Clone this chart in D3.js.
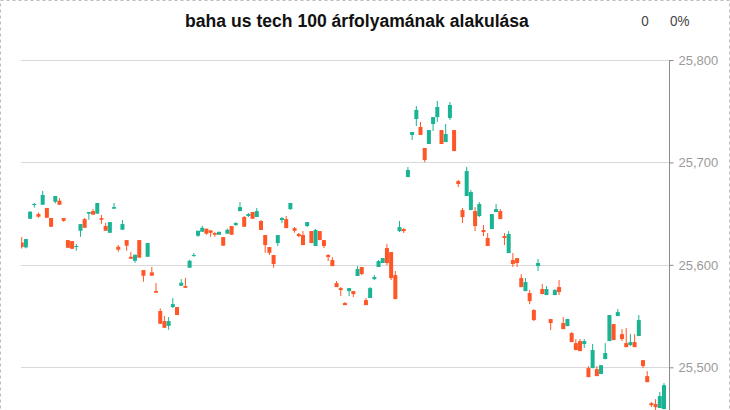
<!DOCTYPE html>
<html><head><meta charset="utf-8">
<script src="https://cdn.jsdelivr.net/npm/d3@7"></script>
<style>html,body{margin:0;padding:0;background:#fff;}svg{display:block;}</style>
</head><body><div id="chart"></div>
<script>
const titleText = "baha us tech 100 árfolyamának alakulása";
const changeValue = "0";
const changePct = "0%";
const yTicks = [25500, 25600, 25700, 25800];
const openV = [25621.8,25617.1,25645.0,25658.7,25649.6,25658.7,25655.5,25645.7,25661.6,25662.6,25645.7,25624.2,25623.2,25617.4,25633.3,25644.7,25650.0,25652.5,25650.0,25645.7,25637.9,25631.3,25654.8,25617.7,25634.3,25624.2,25607.9,25604.0,25624.2,25594.9,25607.9,25592.7,25574.4,25554.9,25545.1,25540.5,25558.8,25558.8,25579.6,25579.3,25597.2,25608.6,25628.4,25632.3,25635.3,25633.7,25631.1,25629.4,25627.1,25630.4,25637.9,25638.9,25652.5,25646.7,25647.7,25651.6,25646.7,25642.8,25629.1,25617.4,25609.6,25621.3,25643.8,25644.7,25654.5,25635.9,25630.1,25629.1,25637.9,25633.0,25618.4,25633.0,25624.2,25609.6,25604.7,25582.2,25577.3,25562.7,25574.4,25574.4,25589.1,25597.9,25565.6,25567.6,25586.1,25597.9,25601.8,25616.4,25612.5,25590.0,25633.0,25635.0,25685.7,25726.8,25742.4,25734.6,25714.1,25718.0,25737.5,25744.3,25731.6,25719.9,25743.4,25731.6,25681.8,25653.5,25667.2,25653.5,25652.5,25647.7,25634.0,25626.2,25635.0,25651.6,25652.5,25628.1,25611.5,25604.7,25606.6,25587.1,25574.4,25572.5,25555.9,25598.8,25576.4,25570.5,25547.1,25570.5,25578.3,25543.2,25540.2,25533.4,25523.6,25525.6,25522.7,25499.2,25499.2,25498.2,25493.4,25508.0,25525.6,25542.2,25550.0,25532.4,25523.6,25521.7,25524.6,25530.5,25507.0,25491.4,25465.0,25464.1,25460.2,25459.2];
const highV = [25627.1,25625.2,25652.5,25660.4,25651.0,25672.1,25655.5,25645.7,25667.2,25665.2,25645.7,25624.2,25623.2,25620.3,25639.8,25645.7,25651.6,25654.5,25660.4,25648.6,25640.8,25641.8,25660.4,25619.3,25643.8,25624.2,25612.5,25609.9,25624.2,25594.9,25621.3,25597.9,25582.2,25557.5,25550.0,25549.0,25567.6,25558.8,25586.1,25587.1,25605.0,25611.5,25633.3,25638.2,25635.3,25633.7,25632.3,25632.3,25627.1,25635.3,25637.9,25641.8,25661.3,25647.7,25650.6,25651.6,25655.5,25643.8,25629.1,25617.4,25609.6,25629.1,25646.7,25647.7,25660.4,25636.9,25631.1,25633.0,25641.8,25633.0,25635.0,25633.0,25624.2,25610.5,25607.6,25584.2,25578.3,25563.7,25577.3,25574.4,25598.8,25597.9,25567.6,25578.3,25590.0,25604.7,25606.6,25620.3,25612.5,25594.0,25642.8,25635.9,25695.5,25729.7,25755.1,25739.5,25714.1,25731.6,25744.3,25760.0,25731.6,25737.5,25759.0,25731.6,25682.8,25655.5,25695.5,25673.0,25656.4,25661.3,25638.9,25631.1,25649.6,25659.4,25654.5,25631.1,25633.0,25611.5,25606.6,25591.0,25587.1,25575.4,25556.8,25605.7,25581.3,25579.3,25547.1,25576.4,25585.2,25549.0,25547.1,25534.4,25527.5,25527.5,25527.5,25501.2,25522.7,25501.2,25502.1,25523.6,25551.0,25542.2,25556.8,25537.3,25538.3,25532.4,25532.4,25551.0,25507.0,25496.3,25466.0,25468.9,25475.8,25484.6];
const lowV = [25615.9,25616.1,25645.0,25656.0,25646.0,25658.7,25646.0,25637.2,25660.0,25658.7,25642.0,25616.7,25615.7,25613.8,25627.4,25636.2,25644.0,25649.0,25650.0,25640.1,25633.3,25631.3,25654.8,25612.8,25634.3,25613.8,25606.0,25602.0,25607.0,25583.5,25607.9,25589.4,25572.8,25542.5,25538.6,25536.6,25557.8,25551.0,25579.6,25577.6,25597.2,25607.9,25627.4,25632.3,25629.4,25627.4,25627.4,25629.4,25618.7,25630.4,25629.4,25637.9,25652.5,25637.2,25646.7,25645.0,25646.7,25634.0,25611.8,25609.6,25597.3,25618.4,25640.8,25635.9,25653.5,25631.4,25627.1,25619.3,25636.9,25621.3,25618.4,25624.2,25616.4,25603.7,25598.8,25578.3,25569.5,25560.7,25569.5,25568.6,25589.1,25590.0,25560.7,25567.6,25585.2,25597.9,25601.8,25599.8,25585.2,25566.6,25632.0,25631.1,25685.7,25721.9,25735.5,25726.8,25700.4,25718.0,25730.7,25739.5,25718.0,25719.9,25741.4,25711.1,25675.9,25640.8,25667.2,25653.5,25633.0,25646.7,25628.1,25618.4,25635.0,25651.6,25644.7,25619.3,25611.5,25597.9,25597.9,25578.3,25574.4,25561.7,25545.1,25594.0,25571.5,25570.5,25536.3,25570.5,25570.5,25537.3,25540.2,25524.6,25516.8,25515.8,25518.8,25490.4,25499.2,25491.4,25493.4,25508.0,25525.6,25526.6,25550.0,25525.6,25519.7,25520.7,25519.7,25530.5,25499.2,25485.5,25461.1,25458.2,25460.2,25459.2];
const closeV = [25617.4,25625.2,25651.9,25659.4,25647.0,25668.2,25646.0,25637.2,25667.2,25658.7,25643.0,25616.7,25615.7,25618.4,25639.8,25636.2,25651.6,25649.0,25660.4,25644.0,25633.3,25641.8,25656.4,25614.8,25639.8,25618.7,25606.0,25609.9,25607.0,25589.4,25621.3,25589.4,25572.8,25542.5,25538.6,25545.1,25561.7,25551.0,25582.5,25577.6,25604.0,25609.6,25633.3,25636.2,25630.4,25631.3,25629.4,25632.3,25618.7,25634.3,25629.4,25640.8,25656.4,25637.2,25649.6,25645.0,25652.5,25634.0,25619.3,25611.8,25600.8,25629.1,25645.7,25635.9,25660.4,25633.3,25628.1,25619.3,25641.8,25621.3,25634.0,25624.2,25618.4,25607.6,25598.8,25578.3,25575.4,25560.7,25577.3,25571.5,25595.9,25591.0,25560.7,25577.3,25588.1,25603.7,25606.6,25601.8,25587.1,25566.6,25636.9,25633.0,25692.6,25729.7,25751.2,25726.8,25702.3,25731.6,25744.3,25754.1,25718.0,25727.7,25756.1,25711.1,25678.9,25646.7,25691.6,25671.1,25637.9,25659.4,25632.0,25618.4,25649.6,25654.5,25644.7,25626.2,25630.1,25600.8,25601.8,25578.3,25583.2,25564.6,25546.1,25601.8,25571.5,25576.4,25543.2,25575.4,25573.4,25537.3,25547.1,25524.6,25516.8,25515.8,25525.6,25490.4,25516.8,25491.4,25502.1,25513.9,25551.0,25526.6,25553.9,25527.5,25519.7,25524.6,25519.7,25546.1,25501.2,25485.5,25463.1,25461.1,25471.9,25482.6];

const W = 730, H = 410;
const plotL = 21, plotR = 669, plotT = 60;
const upColor = "#1ab394", downColor = "#ff5627";
const n = openV.length;
const data = d3.range(n).map(i => ({i, o: openV[i], h: highV[i], l: lowV[i], c: closeV[i]}));

const svg = d3.select("#chart").append("svg").attr("width", W).attr("height", H);

// dashed border
svg.append("rect").attr("x", 0.5).attr("y", 0.5).attr("width", W - 1).attr("height", H + 10)
  .attr("fill", "none").attr("stroke", "#bdbdbd").attr("stroke-dasharray", "3,3");

const x = d3.scaleLinear().domain([0, n - 1]).range([21.7, 664]);
const y = d3.scaleLinear().domain([25500, 25800]).range([367.3, 60]);

// gridlines
svg.append("g").selectAll("line").data(yTicks).join("line")
  .attr("x1", plotL).attr("x2", plotR)
  .attr("y1", d => Math.round(y(d)) + 0.5).attr("y2", d => Math.round(y(d)) + 0.5)
  .attr("stroke", "#d9d9d9").attr("stroke-width", 1.2);

svg.append("defs").append("clipPath").attr("id", "clip")
  .append("rect").attr("x", plotL).attr("y", 0).attr("width", plotR - plotL).attr("height", H);

const g = svg.append("g").attr("clip-path", "url(#clip)");
const col = d => d.c >= d.o ? upColor : downColor;
g.selectAll("line.wick").data(data).join("line").attr("class", "wick")
  .attr("x1", d => x(d.i)).attr("x2", d => x(d.i))
  .attr("y1", d => y(d.h)).attr("y2", d => y(d.l))
  .attr("stroke", col).attr("stroke-width", 1);
g.selectAll("rect.body").data(data).join("rect").attr("class", "body")
  .attr("x", d => x(d.i) - 2).attr("width", 4)
  .attr("y", d => y(Math.max(d.o, d.c)))
  .attr("height", d => Math.max(1, Math.abs(y(d.o) - y(d.c))))
  .attr("fill", col);

// right axis
const axis = d3.axisRight(y).tickValues(yTicks).tickFormat(d3.format(",")).tickSize(4).tickPadding(5);
const ag = svg.append("g").attr("transform", `translate(${plotR + 0.5},0)`).call(axis);
ag.select(".domain").attr("d", `M0,${plotT}V${H}`).attr("stroke", "#8a8a8a");
ag.selectAll(".tick line").attr("stroke", "#8a8a8a");
ag.selectAll(".tick text").attr("fill", "#9a9a9a").style("font-family", "Liberation Sans, Arial, sans-serif").style("font-size", "13px");

// title (condensed look)
svg.append("text").attr("transform", "translate(357,27) scale(0.925,1)").attr("text-anchor", "middle")
  .style("font-family", "'Liberation Sans', Arial, sans-serif")
  .style("font-weight", "bold").style("font-size", "19px").attr("fill", "#111").text(titleText);
svg.append("text").attr("transform", "translate(645,26) scale(0.9,1)").attr("text-anchor", "middle")
  .style("font-family", "'Liberation Sans', Arial, sans-serif")
  .style("font-size", "15px").attr("fill", "#444").text(changeValue);
svg.append("text").attr("transform", "translate(670,26) scale(0.9,1)").attr("text-anchor", "start")
  .style("font-family", "'Liberation Sans', Arial, sans-serif")
  .style("font-size", "15px").attr("fill", "#444").text(changePct);
</script></body></html>
